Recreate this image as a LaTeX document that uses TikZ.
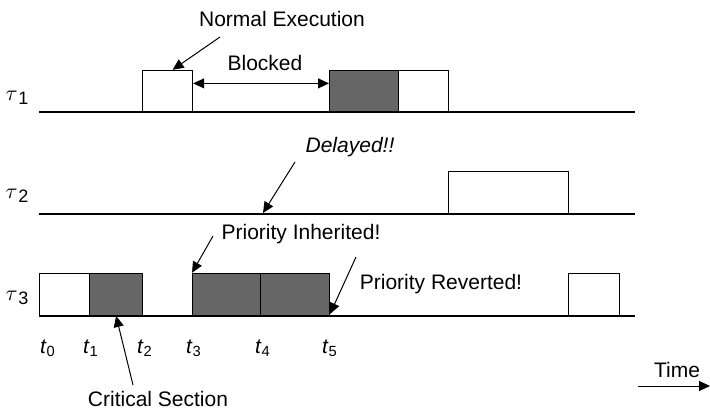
\documentclass[tikz,border=0pt]{standalone}
\usepackage{fontspec}
\setmainfont{Liberation Sans}
\usetikzlibrary{arrows.meta}
\newcommand{\tasklbl}[1]{$\tau$\kern0.3pt\raisebox{-2pt}{\fontsize{9}{10}\selectfont #1}}
\begin{document}
\begin{tikzpicture}[x=0.5pt,y=-0.5pt,
  font=\fontsize{10.5}{12}\selectfont,
  axis/.style={line width=0.6pt},
  runbox/.style={draw, line width=0.6pt, fill=white, inner sep=0pt, anchor=south west},
  critbox/.style={draw, line width=0.6pt, fill=black!60, inner sep=0pt, anchor=south west},
  txt/.style={inner sep=0pt},
  arr/.style={line width=0.5pt, -{Triangle[length=5.5pt,width=5pt]}},
  dblarr/.style={line width=0.5pt, {Triangle[length=5.5pt,width=5pt]}-{Triangle[length=5.5pt,width=5pt]}}]
\useasboundingbox (0,0) rectangle (710,410);

% time lines
\coordinate (l1a) at (39,112); \coordinate (l1b) at (635,112);
\coordinate (l2a) at (39,214); \coordinate (l2b) at (635,214);
\coordinate (l3a) at (39,316); \coordinate (l3b) at (635,316);
\draw[axis] (l1a) -- (l1b);
\draw[axis] (l2a) -- (l2b);
\draw[axis] (l3a) -- (l3b);

% task labels
\node[txt] (tau1) at (17,98) {\tasklbl{1}};
\node[txt] (tau2) at (17,196) {\tasklbl{2}};
\node[txt] (tau3) at (17,298) {\tasklbl{3}};

% tau1 boxes
\node[runbox, minimum width=25pt, minimum height=20.5pt] (b11) at (142,112) {};
\node[critbox, minimum width=34.5pt, minimum height=20.5pt] (b12) at (329,112) {};
\node[runbox, minimum width=25pt, minimum height=20.5pt] (b13) at (398,112) {};

% tau2 box
\node[runbox, minimum width=60pt, minimum height=21pt] (b21) at (448,214) {};

% tau3 boxes
\node[runbox, minimum width=25pt, minimum height=21pt] (b31) at (39,316) {};
\node[critbox, minimum width=26.5pt, minimum height=21pt] (b32) at (89,316) {};
\node[critbox, minimum width=34pt, minimum height=21pt] (b33) at (192,316) {};
\node[critbox, minimum width=34.5pt, minimum height=21pt] (b34) at (260,316) {};
\node[runbox, minimum width=25.5pt, minimum height=21pt] (b35) at (568,316) {};

% annotations
\node[txt] (ne) at (282,19) {Normal Execution};
\coordinate (neS) at (220,37);
\draw[arr] (neS) -- ([xshift=2.5pt]b11.north);

\node[txt] (blk) at (265,63) {Blocked};
\draw[dblarr] ([yshift=3.75pt]b11.east) -- ([yshift=3.75pt]b12.west);

\node[txt] (dl) at (350,147) {\itshape Delayed!!};
\coordinate (dlS) at (295,162);
\coordinate (dlT) at (263,213);
\draw[arr] (dlS) -- (dlT);

\node[txt] (pi) at (301,234) {Priority Inherited!};
\coordinate (piS) at (213,236);
\draw[arr] (piS) -- (b33.north west);

\node[txt] (pr) at (441,284) {Priority Reverted!};
\coordinate (prS) at (356,257);
\coordinate (prT) at (330,314);
\draw[arr] (prS) -- (prT);

\node[txt] (cs) at (158,399) {Critical Section};
\coordinate (csS) at (133,385);
\draw[arr] (csS) -- (b32.south);

% time instants
\node[txt] (t0) at (48,348) {\textit{t}\textsubscript{0}};
\node[txt] (t1) at (91,348) {\textit{t}\textsubscript{1}};
\node[txt] (t2) at (145,348) {\textit{t}\textsubscript{2}};
\node[txt] (t3) at (194,348) {\textit{t}\textsubscript{3}};
\node[txt] (t4) at (263,348) {\textit{t}\textsubscript{4}};
\node[txt] (t5) at (330,348) {\textit{t}\textsubscript{5}};

% time arrow
\node[txt] (time) at (677,370) {Time};
\coordinate (tmS) at (638,386);
\coordinate (tmE) at (710,386);
\draw[arr] (tmS) -- (tmE);
\end{tikzpicture}
\end{document}
